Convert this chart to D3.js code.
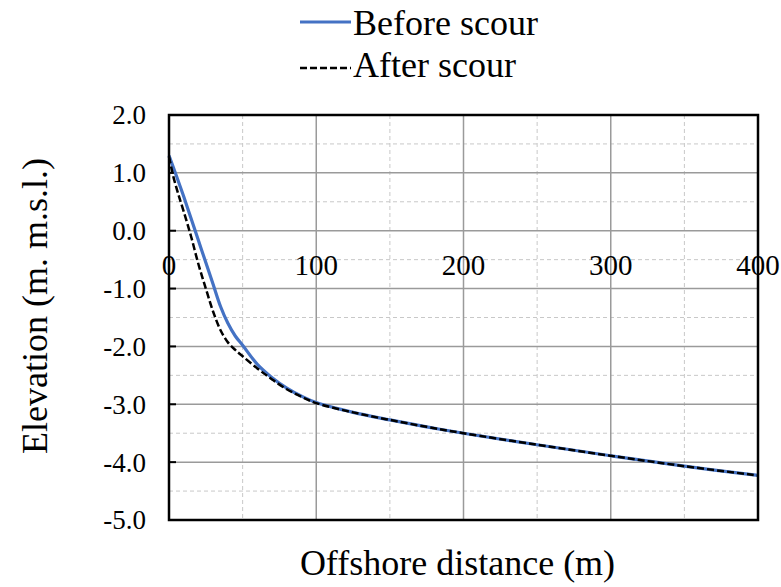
<!DOCTYPE html>
<html>
<head>
<meta charset="utf-8">
<script src="https://cdn.jsdelivr.net/npm/d3@7/dist/d3.min.js"></script>
<style>
  html, body { margin: 0; padding: 0; background: #fff; }
  svg text { font-family: "Liberation Serif", "Times New Roman", serif; fill: #000; }
</style>
</head>
<body>
<svg id="chart" width="781" height="587"></svg>
<script>
// ---- Data ----
const seriesNames = ["Before scour", "After scour"];
const beforeX = [0, 5, 10, 15, 20, 25, 30, 35, 40, 45, 50, 60, 70, 80, 90, 100, 125, 150, 175, 200, 250, 300, 350, 400];
const beforeY = [1.30, 0.95, 0.59, 0.21, -0.17, -0.55, -0.93, -1.31, -1.60, -1.82, -1.98, -2.31, -2.54, -2.72, -2.86, -2.97, -3.14, -3.27, -3.39, -3.50, -3.70, -3.89, -4.07, -4.23];
const afterX = [0, 3, 6, 10, 15, 20, 25, 30, 35, 40, 45, 50, 60, 70, 80, 90, 100, 125, 150, 175, 200, 250, 300, 350, 400];
const afterY = [1.28, 0.93, 0.66, 0.33, -0.10, -0.58, -1.00, -1.40, -1.72, -1.93, -2.06, -2.17, -2.38, -2.57, -2.74, -2.87, -2.98, -3.14, -3.27, -3.39, -3.50, -3.70, -3.89, -4.07, -4.23];
const xTicks = [0, 100, 200, 300, 400];
const yTicks = [2, 1, 0, -1, -2, -3, -4, -5];
const xMinor = [50, 150, 250, 350];
const yMinor = [1.5, 0.5, -0.5, -1.5, -2.5, -3.5, -4.5];
const xTitle = "Offshore distance (m)";
const yTitle = "Elevation (m. m.s.l.)";

// ---- Layout ----
const svg = d3.select("#chart");
const L = 169, R = 758, T = 115, B = 520;
const x = d3.scaleLinear().domain([0, 400]).range([L, R]);
const y = d3.scaleLinear().domain([-5, 2]).range([B, T]);
const fmtY = d => d3.format(".1f")(d).replace("\u2212", "-");

// minor grid
svg.append("g").selectAll("line").data(xMinor).join("line")
  .attr("x1", d => x(d)).attr("x2", d => x(d)).attr("y1", T).attr("y2", B)
  .attr("stroke", "#c8c8c8").attr("stroke-width", 1).attr("stroke-dasharray", "4,3");
svg.append("g").selectAll("line").data(yMinor).join("line")
  .attr("x1", L).attr("x2", R).attr("y1", d => y(d)).attr("y2", d => y(d))
  .attr("stroke", "#c8c8c8").attr("stroke-width", 1).attr("stroke-dasharray", "4,3");

// major grid
svg.append("g").selectAll("line").data(xTicks.slice(1, -1)).join("line")
  .attr("x1", d => x(d)).attr("x2", d => x(d)).attr("y1", T).attr("y2", B)
  .attr("stroke", "#9a9a9a").attr("stroke-width", 1.5);
svg.append("g").selectAll("line").data(yTicks.slice(1, -1)).join("line")
  .attr("x1", L).attr("x2", R).attr("y1", d => y(d)).attr("y2", d => y(d))
  .attr("stroke", "#9a9a9a").attr("stroke-width", 1.5);

// y ticks inward on left axis
svg.append("g").selectAll("line").data(yTicks).join("line")
  .attr("x1", L).attr("x2", L + 7).attr("y1", d => y(d)).attr("y2", d => y(d))
  .attr("stroke", "#000").attr("stroke-width", 2);

// lines
const line = d3.line().x(d => x(d[0])).y(d => y(d[1])).curve(d3.curveCatmullRom.alpha(0.5));
const beforeData = beforeX.map((v, i) => [v, beforeY[i]]);
const afterData = afterX.map((v, i) => [v, afterY[i]]);

svg.append("path").datum(beforeData).attr("d", line)
  .attr("fill", "none").attr("stroke", "#4472C4").attr("stroke-width", 3.2);
svg.append("path").datum(afterData).attr("d", line)
  .attr("fill", "none").attr("stroke", "#000").attr("stroke-width", 2.5)
  .attr("stroke-dasharray", "7,3");

// border
svg.append("rect").attr("x", L).attr("y", T).attr("width", R - L).attr("height", B - T)
  .attr("fill", "none").attr("stroke", "#000").attr("stroke-width", 2.5);

// y tick labels
svg.append("g").selectAll("text").data(yTicks).join("text")
  .attr("x", 146).attr("y", d => y(d)).attr("dy", "0.35em")
  .attr("text-anchor", "end").attr("font-size", 27)
  .text(fmtY);

// x tick labels (axis crosses at 0)
svg.append("g").selectAll("text").data(xTicks).join("text")
  .attr("x", d => x(d)).attr("y", y(0) + 44)
  .attr("text-anchor", "middle").attr("font-size", 29)
  .text(d => d);

// axis titles
svg.append("text").attr("x", (L + R) / 2 - 6).attr("y", 575)
  .attr("text-anchor", "middle").attr("font-size", 36).text(xTitle);
svg.append("text").attr("transform", "translate(47,306) rotate(-90)")
  .attr("text-anchor", "middle").attr("font-size", 36).text(yTitle);

// legend
const lg = svg.append("g");
lg.append("line").attr("x1", 300).attr("x2", 351).attr("y1", 22).attr("y2", 22)
  .attr("stroke", "#4472C4").attr("stroke-width", 3.2);
lg.append("text").attr("x", 353).attr("y", 35).attr("font-size", 36).text(seriesNames[0]);
lg.append("line").attr("x1", 300).attr("x2", 351).attr("y1", 68).attr("y2", 68)
  .attr("stroke", "#000").attr("stroke-width", 2.5).attr("stroke-dasharray", "7,3");
lg.append("text").attr("x", 353).attr("y", 77).attr("font-size", 36).text(seriesNames[1]);
</script>
</body>
</html>
